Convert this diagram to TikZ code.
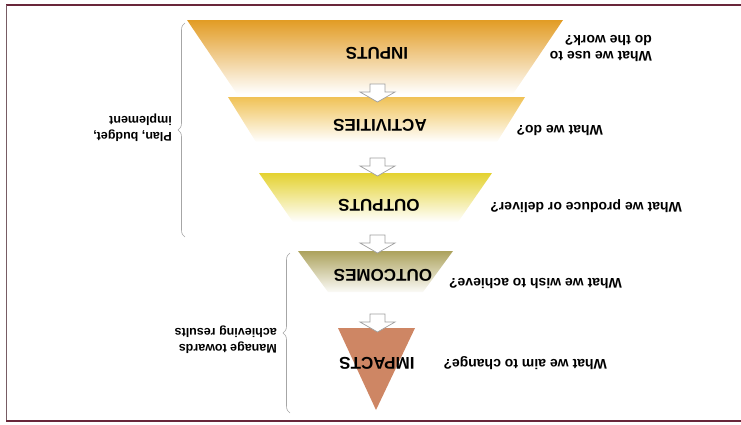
\documentclass[tikz,border=0pt]{standalone}
\usepackage{fontspec}
\setmainfont{Liberation Sans}
\usetikzlibrary{decorations.pathreplacing}
\definecolor{frameline}{RGB}{105,38,58}
\definecolor{inputcol}{RGB}{226,156,36}
\definecolor{activcol}{RGB}{240,194,86}
\definecolor{outputcol}{RGB}{228,210,48}
\definecolor{outcomecol}{RGB}{172,162,92}
\definecolor{impactcol}{RGB}{206,134,100}
\begin{document}
\begin{tikzpicture}[x=1pt, y=-1pt,
	stage/.style={font=\fontsize{17}{19}\selectfont\bfseries, rotate=180},
	question/.style={font=\fontsize{14}{16}\selectfont\bfseries, rotate=180, align=left, anchor=west, inner sep=0pt},
	note/.style={font=\fontsize{12.5}{16}\selectfont\bfseries, rotate=180, align=left, anchor=west, inner sep=0pt},
	bracket/.style={decorate, decoration={brace, amplitude=7pt}, gray!70, line width=0.6pt},
	blockarrow/.style={draw=gray!75, fill=white, line width=0.7pt}]
	\useasboundingbox (0,0) rectangle (741,424);
	% frame
	\draw [frameline, line width=1.6pt] (741,5) -- (6,5);
	\draw [gray!60!frameline, line width=0.9pt] (6,5) -- (6,421);
	\draw [frameline, line width=1.6pt] (6,421) -- (741,421);
	% funnel
	\shade [top color=inputcol, middle color=inputcol!45, bottom color=white] (187,20) -- (563,20) -- (513,94) -- (237,94) -- cycle;
	\shade [top color=activcol, middle color=activcol!50, bottom color=white] (228,97) -- (525,97) -- (497,142) -- (256,142) -- cycle;
	\shade [top color=outputcol, middle color=outputcol!50, bottom color=white] (259,173) -- (492,173) -- (458,222) -- (293,222) -- cycle;
	\shade [top color=outcomecol, middle color=outcomecol!50, bottom color=white!95!outcomecol] (298,251) -- (453,251) -- (423,292) -- (328,292) -- cycle;
	\fill [impactcol] (338,328) -- (415,328) -- (376,410) -- cycle;
	% arrows between the levels
	\foreach \ytop in {84,158,235,314}
		\draw [blockarrow] (370,\ytop) -- (385,\ytop) -- (385,\ytop+8) -- (395,\ytop+8) -- (377.5,\ytop+18) -- (360,\ytop+8) -- (370,\ytop+8) -- cycle;
	% labels
	\node [stage] (inputs) at (377,53) {INPUTS};
	\node [stage] (activities) at (380,125) {ACTIVITIES};
	\node [stage] (outputs) at (379,205) {OUTPUTS};
	\node [stage] (outcomes) at (383,275) {OUTCOMES};
	\node [stage] (impacts) at (377,363) {IMPACTS};
	% questions
	\node [question] (q-inputs) at (652,48) {What we use to\\do the work?};
	\node [question] (q-activities) at (603,130) {What we do?};
	\node [question] (q-outputs) at (682,206) {What we produce or deliver?};
	\node [question] (q-outcomes) at (622,283) {What we wish to achieve?};
	\node [question] (q-impacts) at (607,363) {What we aim to change?};
	% braces
	\draw [bracket] (185,237) -- (185,23);
	\draw [bracket] (290,413) -- (290,253);
	\node [note] (plan) at (172,128) {Plan, budget,\\implement};
	\node [note] (manage) at (277,340) {Manage towards\\achieving results};
\end{tikzpicture}
\end{document}
